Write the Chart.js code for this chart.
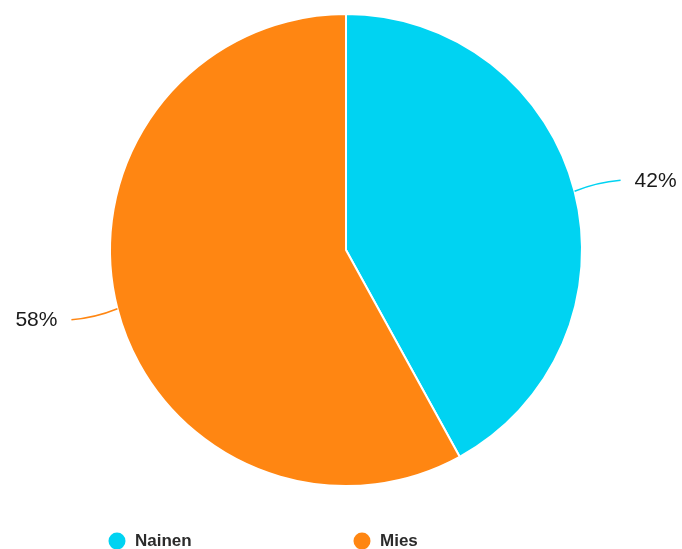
<!DOCTYPE html>
<html lang="fi">
<head>
  <meta charset="UTF-8">
  <title>Nainen / Mies</title>
  <script src="https://cdn.jsdelivr.net/npm/chart.js"></script>
  <style>
    html, body { margin: 0; padding: 0; background: #fff; }
    #wrap { width: 682px; height: 549px; position: relative; }
  </style>
</head>
<body>
  <div id="wrap"><canvas id="graphique"></canvas></div>

  <script>
    const categories = ["Nainen", "Mies"];
    const valeurs = [42, 58];
    const couleurs = ["#00d3f2", "#ff8612"];
    const etiquettes = ["42%", "58%"];

    // étiquettes avec petites lignes + légende en bas
    const pluginEtiquettes = {
      id: "etiquettes",
      afterDatasetsDraw(chart) {
        const ctx = chart.ctx;
        const arcs = chart.getDatasetMeta(0).data;
        ctx.save();
        ctx.font = "21px 'Liberation Sans', Arial, sans-serif";
        ctx.textBaseline = "middle";
        arcs.forEach((arc, i) => {
          const mid = (arc.startAngle + arc.endAngle) / 2;
          const x0 = arc.x + Math.cos(mid) * arc.outerRadius;
          const y0 = arc.y + Math.sin(mid) * arc.outerRadius;
          const droite = Math.cos(mid) >= 0;
          const dir = droite ? 1 : -1;
          const x1 = x0 + dir * 46;
          const y1 = y0 + (droite ? -11 : 11);
          ctx.strokeStyle = couleurs[i];
          ctx.lineWidth = 1.5;
          ctx.beginPath();
          ctx.moveTo(x0, y0);
          ctx.quadraticCurveTo(x0 + dir * 22, y1 + (droite ? 2 : -2), x1, y1);
          ctx.stroke();
          ctx.fillStyle = "#1a1a1a";
          ctx.textAlign = droite ? "left" : "right";
          ctx.fillText(etiquettes[i], x1 + dir * 14, y1 + 1);
        });

        // légende
        ctx.font = "bold 17px 'Liberation Sans', Arial, sans-serif";
        ctx.textAlign = "left";
        const posX = [117, 362];
        categories.forEach((nom, i) => {
          ctx.fillStyle = couleurs[i];
          ctx.beginPath();
          ctx.arc(posX[i], 541, 8.5, 0, Math.PI * 2);
          ctx.fill();
          ctx.fillStyle = "#2b2b2b";
          ctx.fillText(nom, posX[i] + 18, 541);
        });
        ctx.restore();
      }
    };

    new Chart(document.getElementById("graphique"), {
      type: "pie",
      data: {
        labels: categories,
        datasets: [{
          data: valeurs,
          backgroundColor: couleurs,
          borderColor: "#ffffff",
          borderWidth: 2
        }]
      },
      options: {
        responsive: true,
        maintainAspectRatio: false,
        animation: false,
        layout: { padding: { top: 13, bottom: 62, left: 10, right: 0 } },
        plugins: {
          legend: { display: false },
          tooltip: { enabled: false }
        }
      },
      plugins: [pluginEtiquettes]
    });
  </script>
</body>
</html>
